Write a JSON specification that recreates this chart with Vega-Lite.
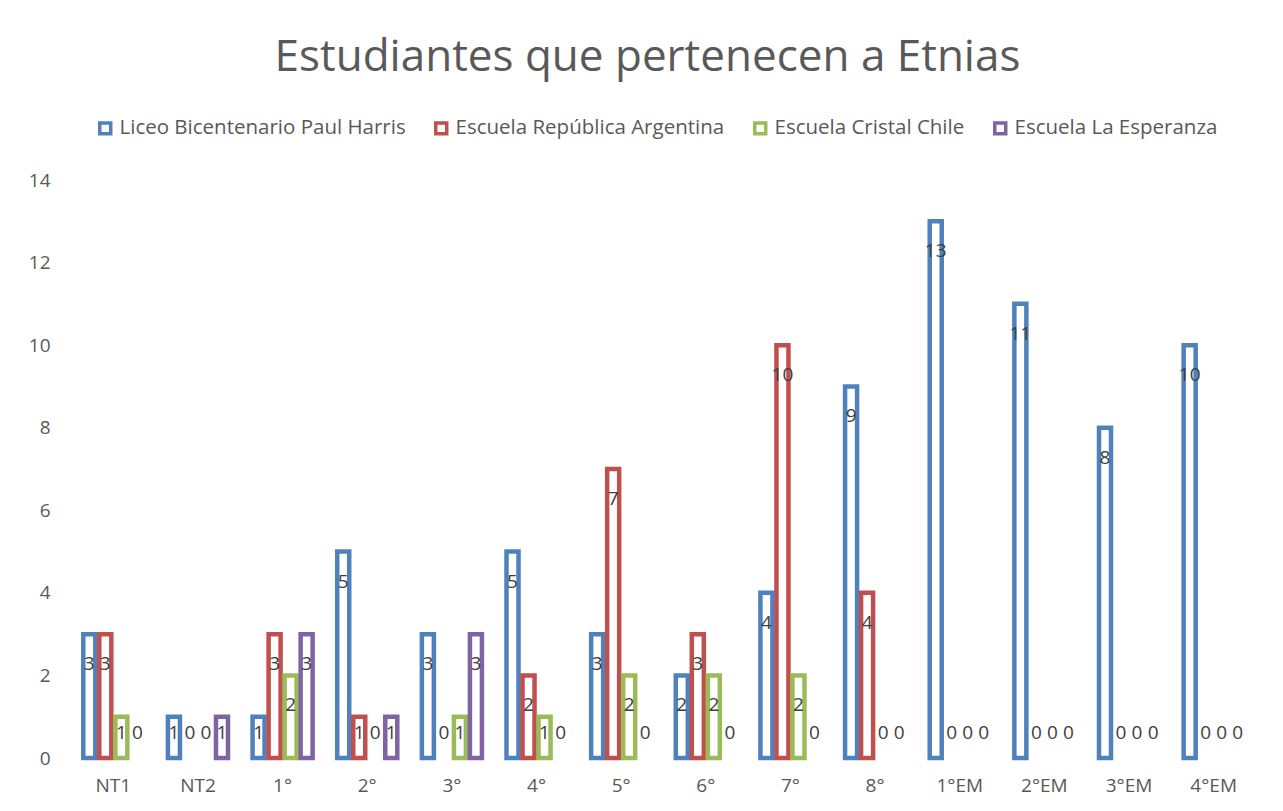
{
  "$schema": "https://vega.github.io/schema/vega-lite/v6.json",
  "width": 1185,
  "height": 578,
  "autosize": {"type": "none"},
  "padding": {"left": 71, "top": 180, "right": 27, "bottom": 53},
  "background": "white",
  "config": {
    "view": {"stroke": null},
    "font": "Open Sans",
    "axis": {"labelFont": "Open Sans", "labelColor": "#595959", "labelFontSize": 19, "grid": false, "domain": false, "ticks": false, "title": null}
  },
  "title": {
    "text": "Estudiantes que pertenecen a Etnias",
    "font": "Open Sans",
    "fontSize": 44,
    "fontWeight": 400,
    "color": "#595959",
    "anchor": "middle",
    "frame": "group",
    "dx": -16,
    "offset": 38
  },
  "data": {
    "values": [
      {"grado": "NT1", "escuela": "Liceo Bicentenario Paul Harris", "n": 3},
      {"grado": "NT1", "escuela": "Escuela República Argentina", "n": 3},
      {"grado": "NT1", "escuela": "Escuela Cristal Chile", "n": 1},
      {"grado": "NT1", "escuela": "Escuela La Esperanza", "n": 0},
      {"grado": "NT2", "escuela": "Liceo Bicentenario Paul Harris", "n": 1},
      {"grado": "NT2", "escuela": "Escuela República Argentina", "n": 0},
      {"grado": "NT2", "escuela": "Escuela Cristal Chile", "n": 0},
      {"grado": "NT2", "escuela": "Escuela La Esperanza", "n": 1},
      {"grado": "1°", "escuela": "Liceo Bicentenario Paul Harris", "n": 1},
      {"grado": "1°", "escuela": "Escuela República Argentina", "n": 3},
      {"grado": "1°", "escuela": "Escuela Cristal Chile", "n": 2},
      {"grado": "1°", "escuela": "Escuela La Esperanza", "n": 3},
      {"grado": "2°", "escuela": "Liceo Bicentenario Paul Harris", "n": 5},
      {"grado": "2°", "escuela": "Escuela República Argentina", "n": 1},
      {"grado": "2°", "escuela": "Escuela Cristal Chile", "n": 0},
      {"grado": "2°", "escuela": "Escuela La Esperanza", "n": 1},
      {"grado": "3°", "escuela": "Liceo Bicentenario Paul Harris", "n": 3},
      {"grado": "3°", "escuela": "Escuela República Argentina", "n": 0},
      {"grado": "3°", "escuela": "Escuela Cristal Chile", "n": 1},
      {"grado": "3°", "escuela": "Escuela La Esperanza", "n": 3},
      {"grado": "4°", "escuela": "Liceo Bicentenario Paul Harris", "n": 5},
      {"grado": "4°", "escuela": "Escuela República Argentina", "n": 2},
      {"grado": "4°", "escuela": "Escuela Cristal Chile", "n": 1},
      {"grado": "4°", "escuela": "Escuela La Esperanza", "n": 0},
      {"grado": "5°", "escuela": "Liceo Bicentenario Paul Harris", "n": 3},
      {"grado": "5°", "escuela": "Escuela República Argentina", "n": 7},
      {"grado": "5°", "escuela": "Escuela Cristal Chile", "n": 2},
      {"grado": "5°", "escuela": "Escuela La Esperanza", "n": 0},
      {"grado": "6°", "escuela": "Liceo Bicentenario Paul Harris", "n": 2},
      {"grado": "6°", "escuela": "Escuela República Argentina", "n": 3},
      {"grado": "6°", "escuela": "Escuela Cristal Chile", "n": 2},
      {"grado": "6°", "escuela": "Escuela La Esperanza", "n": 0},
      {"grado": "7°", "escuela": "Liceo Bicentenario Paul Harris", "n": 4},
      {"grado": "7°", "escuela": "Escuela República Argentina", "n": 10},
      {"grado": "7°", "escuela": "Escuela Cristal Chile", "n": 2},
      {"grado": "7°", "escuela": "Escuela La Esperanza", "n": 0},
      {"grado": "8°", "escuela": "Liceo Bicentenario Paul Harris", "n": 9},
      {"grado": "8°", "escuela": "Escuela República Argentina", "n": 4},
      {"grado": "8°", "escuela": "Escuela Cristal Chile", "n": 0},
      {"grado": "8°", "escuela": "Escuela La Esperanza", "n": 0},
      {"grado": "1°EM", "escuela": "Liceo Bicentenario Paul Harris", "n": 13},
      {"grado": "1°EM", "escuela": "Escuela República Argentina", "n": 0},
      {"grado": "1°EM", "escuela": "Escuela Cristal Chile", "n": 0},
      {"grado": "1°EM", "escuela": "Escuela La Esperanza", "n": 0},
      {"grado": "2°EM", "escuela": "Liceo Bicentenario Paul Harris", "n": 11},
      {"grado": "2°EM", "escuela": "Escuela República Argentina", "n": 0},
      {"grado": "2°EM", "escuela": "Escuela Cristal Chile", "n": 0},
      {"grado": "2°EM", "escuela": "Escuela La Esperanza", "n": 0},
      {"grado": "3°EM", "escuela": "Liceo Bicentenario Paul Harris", "n": 8},
      {"grado": "3°EM", "escuela": "Escuela República Argentina", "n": 0},
      {"grado": "3°EM", "escuela": "Escuela Cristal Chile", "n": 0},
      {"grado": "3°EM", "escuela": "Escuela La Esperanza", "n": 0},
      {"grado": "4°EM", "escuela": "Liceo Bicentenario Paul Harris", "n": 10},
      {"grado": "4°EM", "escuela": "Escuela República Argentina", "n": 0},
      {"grado": "4°EM", "escuela": "Escuela Cristal Chile", "n": 0},
      {"grado": "4°EM", "escuela": "Escuela La Esperanza", "n": 0}
    ]
  },
  "encoding": {
    "x": {
      "field": "grado",
      "type": "nominal",
      "sort": ["NT1", "NT2", "1°", "2°", "3°", "4°", "5°", "6°", "7°", "8°", "1°EM", "2°EM", "3°EM", "4°EM"],
      "scale": {"paddingInner": 0.243, "paddingOuter": 0.1215},
      "axis": {"labelAngle": 0, "labelPadding": 18}
    },
    "xOffset": {
      "field": "escuela",
      "type": "nominal",
      "sort": ["Liceo Bicentenario Paul Harris", "Escuela República Argentina", "Escuela Cristal Chile", "Escuela La Esperanza"],
      "scale": {"domain": ["Liceo Bicentenario Paul Harris", "Escuela República Argentina", "Escuela Cristal Chile", "Escuela La Esperanza"], "paddingInner": 0.25, "paddingOuter": 0.125}
    }
  },
  "layer": [
    {
      "transform": [{"filter": "datum.n > 0"}],
      "mark": {"type": "bar", "fill": "white", "strokeWidth": 4.5},
      "encoding": {
        "y": {
          "field": "n",
          "type": "quantitative",
          "scale": {"domain": [0, 14]},
          "axis": {"values": [0, 2, 4, 6, 8, 10, 12, 14], "labelPadding": 21}
        },
        "stroke": {
          "field": "escuela",
          "type": "nominal",
          "scale": {
            "domain": ["Liceo Bicentenario Paul Harris", "Escuela República Argentina", "Escuela Cristal Chile", "Escuela La Esperanza"],
            "range": ["#4F81BD", "#C0504D", "#9BBB59", "#8064A2"]
          },
          "legend": {
            "orient": "none",
            "legendX": 24,
            "legendY": -62,
            "direction": "horizontal",
            "title": null,
            "symbolType": "square",
            "symbolSize": 120,
            "symbolStrokeWidth": 3.5,
            "symbolFillColor": "white",
            "labelFont": "Open Sans",
            "labelFontSize": 20.5,
            "labelLimit": 0,
            "labelColor": "#595959",
            "labelOffset": 4,
            "columnPadding": 22,
            "symbolOffset": 0
          }
        }
      }
    },
    {
      "transform": [{"filter": "datum.n >= 2"}],
      "mark": {"type": "text", "baseline": "middle", "align": "center", "dy": 30, "fontSize": 19, "color": "#404040", "font": "Open Sans"},
      "encoding": {
        "y": {"field": "n", "type": "quantitative"},
        "text": {"field": "n", "type": "quantitative"}
      }
    },
    {
      "transform": [{"filter": "datum.n < 2"}],
      "mark": {"type": "text", "baseline": "middle", "align": "center", "dy": -25, "fontSize": 19, "color": "#404040", "font": "Open Sans"},
      "encoding": {
        "y": {"datum": 0},
        "text": {"field": "n", "type": "quantitative"}
      }
    }
  ]
}
